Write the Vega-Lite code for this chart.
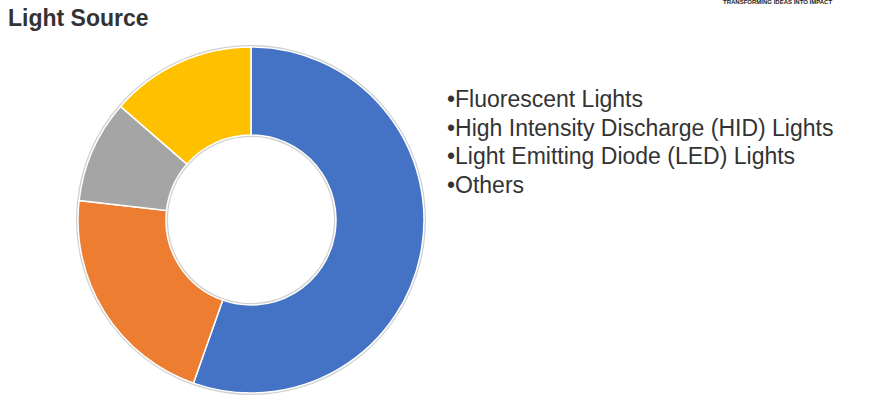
{
  "$schema": "https://vega.github.io/schema/vega-lite/v6.json",
  "width": 502,
  "height": 360,
  "autosize": {"type": "none"},
  "padding": {"left": 0, "top": 40, "right": 374, "bottom": 0},
  "background": "white",
  "title": {
    "text": "Light Source",
    "anchor": "start",
    "frame": "group",
    "dx": 8,
    "dy": 44,
    "offset": 12,
    "font": "Liberation Sans",
    "fontSize": 23,
    "fontWeight": "bold",
    "color": "#333333"
  },
  "data": {
    "values": [
      {"source": "Fluorescent Lights", "share": 55.4},
      {"source": "High Intensity Discharge (HID) Lights", "share": 21.4},
      {"source": "Light Emitting Diode (LED) Lights", "share": 9.6},
      {"source": "Others", "share": 13.6}
    ]
  },
  "layer": [
    {
      "mark": {"type": "arc", "outerRadius": 175, "innerRadius": 83, "color": "#bdbdbd"},
      "encoding": {
        "theta": {"field": "share", "type": "quantitative", "stack": true},
        "opacity": {
          "field": "source",
          "type": "ordinal",
          "scale": {"range": [0.7, 0.7, 0.7, 0.7]},
          "legend": {
            "title": "TRANSFORMING IDEAS INTO IMPACT",
            "orient": "none",
            "legendX": 723,
            "legendY": -41,
            "padding": 0,
            "titleFont": "Liberation Sans",
            "titleFontSize": 6,
            "titleFontWeight": "bold",
            "titleColor": "#222222",
            "titleLimit": 300,
            "symbolOpacity": 0,
            "symbolSize": 0,
            "symbolStrokeWidth": 0,
            "labelOpacity": 0,
            "labelFontSize": 1,
            "rowPadding": 0
          }
        }
      }
    },
    {
      "mark": {"type": "arc", "outerRadius": 173, "innerRadius": 85, "stroke": "white", "strokeWidth": 1.5},
      "encoding": {
        "theta": {"field": "share", "type": "quantitative", "stack": true},
        "color": {
          "field": "source",
          "type": "nominal",
          "scale": {
            "domain": ["Fluorescent Lights", "High Intensity Discharge (HID) Lights", "Light Emitting Diode (LED) Lights", "Others"],
            "range": ["#4472C4", "#ED7D31", "#A5A5A5", "#FFC000"]
          },
          "legend": {
            "title": null,
            "orient": "none",
            "legendX": 424,
            "legendY": 48.5,
            "padding": 0,
            "symbolSize": 0,
            "symbolStrokeWidth": 0,
            "symbolOpacity": 0,
            "labelOffset": 0,
            "labelFont": "Liberation Sans",
            "labelFontSize": 23,
            "labelColor": "#333333",
            "labelLimit": 500,
            "rowPadding": 4.7,
            "labelExpr": "'•' + datum.label"
          }
        }
      }
    }
  ]
}
